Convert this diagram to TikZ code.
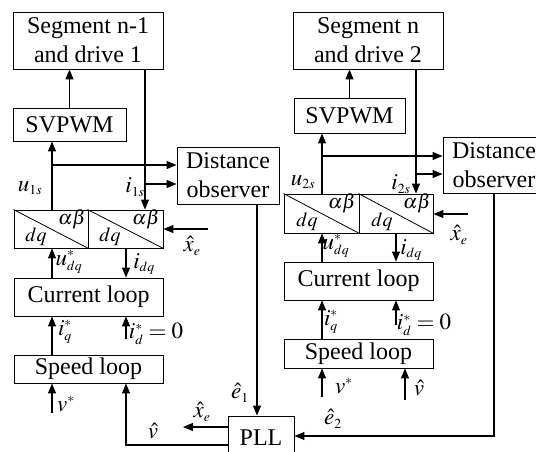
\documentclass[tikz,border=0pt]{standalone}
\usepackage{mathptmx}
\usepackage[no-math]{fontspec}
\setmainfont{Liberation Serif}
\newfontfamily\tnr{Liberation Serif}
\usetikzlibrary{arrows.meta}
\newcommand\myfs{\tnr\fontsize{24}{29}\selectfont}
\newcommand\mylf{\fontsize{23}{27}\selectfont}
\newcommand\mydf{\fontsize{20}{24}\selectfont}
\newcommand\sst[1]{{\scriptscriptstyle #1}}
\tikzset{
  box/.style={draw, line width=0.9pt, inner sep=0pt, align=center, font=\myfs},
  cell/.style={draw, line width=0.9pt, inner sep=0pt},
  lbl/.style={inner sep=0pt, font=\mylf},
  dql/.style={inner sep=0pt, font=\mydf},
  arr/.style={line width=1.1pt, -{Triangle[length=10pt,width=8pt]}},
}
\begin{document}
\begin{tikzpicture}[x=1pt,y=-1pt]
\useasboundingbox (0,0) rectangle (536,451);
\clip (0,0) rectangle (536,451);
% ---------- left column ----------
\node[box, minimum width=150pt, minimum height=57pt] (seg1) at (88,40.5) {Segment n-1\\and drive 1};
\node[box, minimum width=113pt, minimum height=33pt] (svpwm1) at (69.5,124.5) {SVPWM};
\node[box, minimum width=102pt, minimum height=57pt] (do1) at (228,175.5) {Distance\\observer};
\node[cell, minimum width=74pt, minimum height=38pt] (dqLa) at (51,229) {};
\node[cell, minimum width=75pt, minimum height=38pt] (dqLb) at (125.5,229) {};
\draw[line width=0.8pt] (dqLa.north west) -- (dqLa.south east);
\draw[line width=0.8pt] (dqLb.north west) -- (dqLb.south east);
\node[dql] (abL1) at (72,219) {$\alpha\beta$};
\node[dql] (dqL1) at (36,237) {$dq$};
\node[dql] (abL2) at (146,219) {$\alpha\beta$};
\node[dql] (dqL2) at (110,237) {$dq$};
\node[box, minimum width=149pt, minimum height=38pt] (cur1) at (88.5,297) {Current loop};
\node[box, minimum width=149pt, minimum height=28pt] (spd1) at (88.5,369) {Speed loop};
\node[box, minimum width=66pt, minimum height=44pt] (pll) at (261,438) {PLL};
% ---------- right column ----------
\node[box, minimum width=150pt, minimum height=57pt] (seg2) at (368,40.5) {Segment n\\and drive 2};
\node[box, minimum width=111pt, minimum height=35pt] (svpwm2) at (349.5,115.5) {SVPWM};
\node[box, minimum width=102pt, minimum height=56pt] (do2) at (494,165) {Distance\\observer};
\node[cell, minimum width=75pt, minimum height=39pt] (dqRa) at (321.5,213.5) {};
\node[cell, minimum width=74pt, minimum height=39pt] (dqRb) at (396,213.5) {};
\draw[line width=0.8pt] (dqRa.north west) -- (dqRa.south east);
\draw[line width=0.8pt] (dqRb.north west) -- (dqRb.south east);
\node[dql] (abR1) at (342,203) {$\alpha\beta$};
\node[dql] (dqR1) at (307,222) {$dq$};
\node[dql] (abR2) at (417,203) {$\alpha\beta$};
\node[dql] (dqR2) at (382,222) {$dq$};
\node[box, minimum width=149pt, minimum height=38pt] (cur2) at (358.5,281) {Current loop};
\node[box, minimum width=149pt, minimum height=29pt] (spd2) at (358.5,353.5) {Speed loop};
% ---------- coordinates ----------
\coordinate (uL) at (52,0);
\coordinate (iL) at (145,0);
\coordinate (cL) at (126,0);
\coordinate (bu1) at (52,165);
\coordinate (bi1) at (145,184);
\coordinate (xe1) at (257,0);
\coordinate (xo) at (183,427);
\coordinate (vh) at (126,445);
\coordinate (xeL) at (208,229);
\coordinate (idL) at (126,339);
\coordinate (vsL) at (52,413);
\coordinate (uR) at (322,0);
\coordinate (iR) at (416,0);
\coordinate (cR) at (396,0);
\coordinate (bu2) at (322,156);
\coordinate (bi2) at (416,174);
\coordinate (e2c) at (494,436);
\coordinate (xeR) at (468,214);
\coordinate (idR) at (396,325);
\coordinate (vsR) at (322,397);
\coordinate (vhR) at (405,400);
% ---------- left connectors ----------
\draw[arr] (svpwm1.north) -- (svpwm1.north |- seg1.south);
\draw[arr] (seg1.south -| iL) -- (dqLb.north -| iL);
\draw[arr] (dqLa.north -| uL) -- (svpwm1.south -| uL);
\draw[arr] (bu1) -- (bu1 -| do1.west);
\draw[arr] (bi1) -- (bi1 -| do1.west);
\draw[arr] (do1.south -| xe1) -- (pll.north -| xe1);
\draw[arr] (xo -| pll.west) -- (xo);
\draw[arr] (vh -| pll.west) -- (vh) -- (spd1.south -| vh);
\draw[arr] (xeL) -- (xeL -| dqLb.east);
\draw[arr] (cur1.north -| uL) -- (dqLa.south -| uL);
\draw[arr] (dqLb.south -| cL) -- (cur1.north -| cL);
\draw[arr] (spd1.north -| uL) -- (cur1.south -| uL);
\draw[arr] (idL) -- (cur1.south -| idL);
\draw[arr] (vsL) -- (spd1.south -| vsL);
% ---------- right connectors ----------
\draw[arr] (svpwm2.north) -- (svpwm2.north |- seg2.south);
\draw[arr] (seg2.south -| iR) -- (dqRb.north -| iR);
\draw[arr] (dqRa.north -| uR) -- (svpwm2.south -| uR);
\draw[arr] (bu2) -- (bu2 -| do2.west);
\draw[arr] (bi2) -- (bi2 -| do2.west);
\draw[arr] (do2.south) -- (e2c) -- (e2c -| pll.east);
\draw[arr] (xeR) -- (xeR -| dqRb.east);
\draw[arr] (cur2.north -| uR) -- (dqRa.south -| uR);
\draw[arr] (dqRb.south -| cR) -- (cur2.north -| cR);
\draw[arr] (spd2.north -| uR) -- (cur2.south -| uR);
\draw[arr] (idR) -- (cur2.south -| idR);
\draw[arr] (vsR) -- (spd2.south -| vsR);
\draw[arr] (vhR) -- (spd2.south -| vhR);
% ---------- labels ----------
\node[lbl] (lu1) at (30,188) {$u_{\sst{1s}}$};
\node[lbl] (li1) at (135,187) {$i_{\sst{1s}}$};
\node[lbl] (lxL) at (192,246) {$\hat{x}_{\sst{e}}$};
\node[lbl] (ludL) at (69,262) {$u^{\sst{*}}_{\sst{dq}}$};
\node[lbl] (lidL) at (144,264) {$i_{\sst{dq}}$};
\node[lbl] (liqL) at (65,332) {$i^{\sst{*}}_{\sst{q}}$};
\node[lbl] (lidzL) at (156,334) {$i^{\sst{*}}_{\sst{d}}=0$};
\node[lbl] (lvsL) at (66,404) {$v^{\sst{*}}$};
\node[lbl] (lvhL) at (153,431) {$\hat{v}$};
\node[lbl] (lxo) at (202,412) {$\hat{x}_{\sst{e}}$};
\node[lbl] (le1) at (240,393) {$\hat{e}_{\sst{1}}$};
\node[lbl] (lu2) at (303,182) {$u_{\sst{2s}}$};
\node[lbl] (li2) at (401,184) {$i_{\sst{2s}}$};
\node[lbl] (lxR) at (459,235) {$\hat{x}_{\sst{e}}$};
\node[lbl] (ludR) at (336,246) {$u^{\sst{*}}_{\sst{dq}}$};
\node[lbl] (lidR) at (411,250) {$i_{\sst{dq}}$};
\node[lbl] (liqR) at (331,322) {$i^{\sst{*}}_{\sst{q}}$};
\node[lbl] (lidzR) at (424,325) {$i^{\sst{*}}_{\sst{d}}=0$};
\node[lbl] (lvsR) at (344,386) {$v^{\sst{*}}$};
\node[lbl] (lvhR) at (419,388) {$\hat{v}$};
\node[lbl] (le2) at (333,419) {$\hat{e}_{\sst{2}}$};
\end{tikzpicture}
\end{document}
